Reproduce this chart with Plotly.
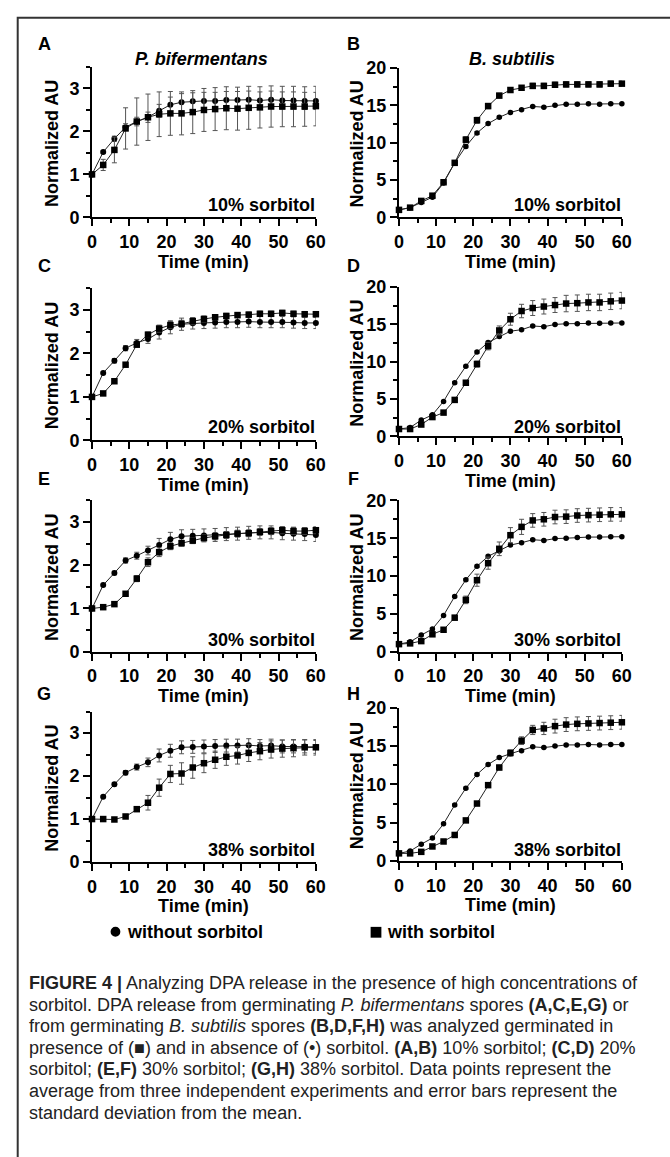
import plotly.graph_objects as go

W, H = 670, 1157

time_min = [0, 3, 6, 9, 12, 15, 18, 21, 24, 27, 30, 33, 36, 39, 42, 45, 48, 51, 54, 57, 60]

# Panel A: P. bifermentans, 10% sorbitol
a_without = [1.0, 1.52, 1.83, 2.10, 2.23, 2.33, 2.48, 2.62, 2.68, 2.70, 2.71, 2.71, 2.73, 2.73, 2.74, 2.72, 2.74, 2.72, 2.72, 2.71, 2.71]
a_without_sd = [0, 0.03, 0.06, 0.08, 0.1, 0.12, 0.15, 0.18, 0.2, 0.2, 0.2, 0.2, 0.2, 0.2, 0.2, 0.2, 0.2, 0.2, 0.2, 0.2, 0.2]
a_with = [1.0, 1.22, 1.57, 2.07, 2.23, 2.33, 2.40, 2.42, 2.42, 2.45, 2.50, 2.52, 2.54, 2.53, 2.55, 2.56, 2.58, 2.58, 2.58, 2.58, 2.59]
a_with_sd = [0, 0.13, 0.3, 0.48, 0.55, 0.54, 0.52, 0.51, 0.5, 0.5, 0.5, 0.5, 0.5, 0.5, 0.5, 0.48, 0.48, 0.47, 0.47, 0.46, 0.46]

# Panel B: B. subtilis, 10% sorbitol
b_without = [1.0, 1.3, 2.0, 2.7, 4.6, 7.3, 9.5, 11.3, 12.55, 13.4, 14.05, 14.4, 14.85, 14.75, 15.0, 15.15, 15.15, 15.2, 15.15, 15.2, 15.2]
b_without_sd = [0, 0.05, 0.1, 0.1, 0.15, 0.2, 0.2, 0.2, 0.15, 0.15, 0.15, 0.1, 0.1, 0.1, 0.1, 0.1, 0.1, 0.1, 0.1, 0.1, 0.1]
b_with = [1.0, 1.3, 2.2, 2.9, 4.7, 7.3, 10.4, 13.0, 14.9, 16.3, 17.05, 17.35, 17.6, 17.6, 17.75, 17.8, 17.8, 17.8, 17.8, 17.9, 17.9]
b_with_sd = [0, 0.05, 0.1, 0.15, 0.2, 0.3, 0.4, 0.4, 0.35, 0.3, 0.3, 0.3, 0.35, 0.35, 0.35, 0.35, 0.35, 0.35, 0.35, 0.35, 0.35]

# Panel C: P. bifermentans, 20% sorbitol
c_without = [1.0, 1.55, 1.83, 2.12, 2.24, 2.33, 2.48, 2.60, 2.67, 2.69, 2.70, 2.71, 2.72, 2.72, 2.73, 2.72, 2.72, 2.72, 2.71, 2.70, 2.70]
c_without_sd = [0, 0.02, 0.05, 0.06, 0.08, 0.1, 0.15, 0.15, 0.14, 0.13, 0.13, 0.13, 0.13, 0.13, 0.13, 0.13, 0.13, 0.13, 0.13, 0.13, 0.13]
c_with = [1.0, 1.08, 1.36, 1.74, 2.20, 2.43, 2.57, 2.65, 2.68, 2.74, 2.79, 2.83, 2.86, 2.88, 2.89, 2.91, 2.91, 2.93, 2.91, 2.90, 2.90]
c_with_sd = [0, 0.02, 0.03, 0.04, 0.05, 0.06, 0.08, 0.08, 0.08, 0.08, 0.07, 0.06, 0.06, 0.06, 0.06, 0.06, 0.06, 0.06, 0.06, 0.06, 0.06]

# Panel D: B. subtilis, 20% sorbitol
d_without = [1.0, 1.2, 2.2, 2.9, 4.7, 7.2, 9.4, 11.3, 12.6, 13.4, 14.1, 14.3, 14.8, 14.7, 15.0, 15.1, 15.1, 15.2, 15.15, 15.2, 15.2]
d_without_sd = [0, 0.05, 0.1, 0.1, 0.1, 0.15, 0.15, 0.15, 0.15, 0.1, 0.1, 0.1, 0.1, 0.1, 0.1, 0.1, 0.1, 0.1, 0.1, 0.1, 0.1]
d_with = [1.0, 1.0, 1.6, 2.6, 3.2, 4.9, 7.2, 9.7, 12.1, 14.2, 15.7, 16.8, 17.2, 17.4, 17.6, 17.8, 17.85, 17.95, 17.95, 18.1, 18.2]
d_with_sd = [0, 0.05, 0.1, 0.15, 0.15, 0.2, 0.3, 0.4, 0.5, 0.6, 0.8, 0.9, 1.0, 1.0, 1.0, 1.1, 1.1, 1.1, 1.1, 1.1, 1.1]

# Panel E: P. bifermentans, 30% sorbitol
e_without = [1.0, 1.54, 1.82, 2.11, 2.22, 2.34, 2.47, 2.60, 2.67, 2.68, 2.69, 2.70, 2.72, 2.73, 2.75, 2.76, 2.76, 2.74, 2.73, 2.72, 2.70]
e_without_sd = [0, 0.02, 0.04, 0.06, 0.08, 0.1, 0.15, 0.16, 0.15, 0.15, 0.15, 0.15, 0.15, 0.15, 0.15, 0.15, 0.15, 0.15, 0.15, 0.15, 0.15]
e_with = [1.0, 1.03, 1.10, 1.34, 1.69, 2.07, 2.30, 2.44, 2.51, 2.57, 2.63, 2.67, 2.70, 2.73, 2.74, 2.77, 2.79, 2.81, 2.79, 2.79, 2.81]
e_with_sd = [0, 0.02, 0.03, 0.05, 0.07, 0.1, 0.1, 0.08, 0.07, 0.07, 0.07, 0.08, 0.08, 0.08, 0.08, 0.08, 0.08, 0.08, 0.08, 0.08, 0.08]

# Panel F: B. subtilis, 30% sorbitol
f_without = [1.0, 1.3, 2.2, 3.0, 4.8, 7.3, 9.5, 11.3, 12.6, 13.3, 14.1, 14.4, 14.8, 14.7, 14.95, 15.0, 15.1, 15.15, 15.15, 15.2, 15.2]
f_without_sd = [0, 0.05, 0.1, 0.1, 0.1, 0.15, 0.15, 0.15, 0.15, 0.1, 0.1, 0.1, 0.1, 0.1, 0.1, 0.1, 0.1, 0.1, 0.1, 0.1, 0.1]
f_with = [1.0, 1.1, 1.4, 2.3, 2.9, 4.5, 6.85, 9.45, 11.7, 13.6, 15.4, 16.5, 17.35, 17.5, 17.8, 17.85, 18.0, 18.05, 18.1, 18.15, 18.15]
f_with_sd = [0, 0.05, 0.1, 0.15, 0.2, 0.3, 0.5, 0.8, 0.8, 0.9, 1.0, 1.0, 0.9, 0.9, 0.9, 0.9, 0.9, 0.9, 0.9, 0.9, 0.9]

# Panel G: P. bifermentans, 38% sorbitol
g_without = [1.0, 1.52, 1.81, 2.08, 2.21, 2.32, 2.48, 2.59, 2.67, 2.68, 2.69, 2.70, 2.71, 2.71, 2.72, 2.70, 2.71, 2.69, 2.69, 2.69, 2.68]
g_without_sd = [0, 0.02, 0.04, 0.05, 0.07, 0.1, 0.15, 0.15, 0.15, 0.15, 0.15, 0.15, 0.15, 0.15, 0.15, 0.15, 0.15, 0.15, 0.15, 0.15, 0.15]
g_with = [1.0, 1.0, 0.99, 1.06, 1.23, 1.38, 1.73, 2.05, 2.06, 2.20, 2.30, 2.38, 2.45, 2.48, 2.54, 2.58, 2.62, 2.64, 2.65, 2.67, 2.67]
g_with_sd = [0, 0.02, 0.02, 0.03, 0.05, 0.17, 0.2, 0.2, 0.25, 0.25, 0.22, 0.2, 0.2, 0.2, 0.2, 0.2, 0.2, 0.2, 0.2, 0.18, 0.18]

# Panel H: B. subtilis, 38% sorbitol
h_without = [1.0, 1.3, 2.2, 3.0, 4.85, 7.3, 9.5, 11.3, 12.6, 13.5, 14.0, 14.4, 14.9, 14.8, 15.0, 15.15, 15.15, 15.2, 15.15, 15.2, 15.2]
h_without_sd = [0, 0.05, 0.1, 0.1, 0.1, 0.15, 0.15, 0.15, 0.15, 0.1, 0.1, 0.1, 0.1, 0.1, 0.1, 0.1, 0.1, 0.1, 0.1, 0.1, 0.1]
h_with = [1.0, 1.0, 1.2, 1.9, 2.55, 3.4, 5.3, 7.5, 9.9, 12.2, 14.1, 15.7, 17.1, 17.3, 17.6, 17.8, 17.9, 17.95, 18.0, 18.05, 18.1]
h_with_sd = [0, 0.05, 0.05, 0.1, 0.1, 0.15, 0.2, 0.2, 0.25, 0.3, 0.4, 0.5, 0.6, 0.8, 0.9, 0.9, 0.9, 0.9, 0.9, 0.9, 0.9]

panel_letters = ["A", "B", "C", "D", "E", "F", "G", "H"]
condition_labels = ["10% sorbitol", "10% sorbitol", "20% sorbitol", "20% sorbitol",
                    "30% sorbitol", "30% sorbitol", "38% sorbitol", "38% sorbitol"]
species_titles = ["P. bifermentans", "B. subtilis"]
legend_labels = ["without sorbitol", "with sorbitol"]

series = [
    (a_without, a_without_sd, a_with, a_with_sd),
    (b_without, b_without_sd, b_with, b_with_sd),
    (c_without, c_without_sd, c_with, c_with_sd),
    (d_without, d_without_sd, d_with, d_with_sd),
    (e_without, e_without_sd, e_with, e_with_sd),
    (f_without, f_without_sd, f_with, f_with_sd),
    (g_without, g_without_sd, g_with, g_with_sd),
    (h_without, h_without_sd, h_with, h_with_sd),
]

# layout geometry in pixels (left, right, top, bottom of each plot area)
col_x = [(89, 318), (403, 631)]
row_y = [[(58, 211), (59, 211)],
         [(283, 438), (282, 434)],
         [(499, 653), (499, 653)],
         [(714, 867), (710, 866)]]

def px(x):
    return x / W

def py(y):
    return 1 - y / H

FONT = "Liberation Sans, Arial, Helvetica, sans-serif"
fig = go.Figure()
layout = dict(width=W, height=H, margin=dict(l=0, r=0, t=0, b=0),
              paper_bgcolor="white", plot_bgcolor="white", showlegend=False,
              font=dict(family=FONT, color="black"))
annotations = []
shapes = []

for i in range(8):
    r, c = divmod(i, 2)
    xa = "x" if i == 0 else f"x{i+1}"
    ya = "y" if i == 0 else f"y{i+1}"
    xl, xr = col_x[c]
    yt, yb = row_y[r][c]
    wo, wo_sd, wi, wi_sd = series[i]
    msize_c = 6 if c == 0 else 5.5
    fig.add_trace(go.Scatter(
        x=time_min, y=wo, mode="lines+markers", xaxis=xa, yaxis=ya,
        line=dict(color="#222", width=1),
        marker=dict(symbol="circle", size=msize_c, color="black"),
        error_y=dict(type="data", array=wo_sd, color="#555", thickness=1, width=2.5),
        cliponaxis=False))
    fig.add_trace(go.Scatter(
        x=time_min, y=wi, mode="lines+markers", xaxis=xa, yaxis=ya,
        line=dict(color="#222", width=1),
        marker=dict(symbol="square", size=6.5, color="black"),
        error_y=dict(type="data", array=wi_sd, color="#555", thickness=1, width=2.5),
        cliponaxis=False))

    key_x = "xaxis" if i == 0 else f"xaxis{i+1}"
    key_y = "yaxis" if i == 0 else f"yaxis{i+1}"
    layout[key_x] = dict(
        domain=[px(xl), px(xr)], anchor=ya, range=[0, 60],
        tickmode="linear", tick0=0, dtick=10,
        showline=True, linewidth=2, linecolor="black",
        ticks="outside", ticklen=7, tickwidth=2, tickcolor="black",
        minor=dict(tickmode="linear", tick0=0, dtick=5, ticks="outside", ticklen=4, tickwidth=2, tickcolor="black"),
        showgrid=False, zeroline=False,
        tickfont=dict(family=FONT, size=18, weight="bold", color="black"))
    if c == 0:
        yr, ydt, ymin = [0, 3.5], 1, 0.5
    else:
        yr, ydt, ymin = [0, 20], 5, 2.5
    layout[key_y] = dict(
        domain=[py(yb), py(yt)], anchor=xa, range=yr,
        tickmode="linear", tick0=0, dtick=ydt,
        showline=True, linewidth=2, linecolor="black",
        ticks="outside", ticklen=7, tickwidth=2, tickcolor="black",
        minor=dict(tickmode="linear", tick0=0, dtick=ymin, ticks="outside", ticklen=4, tickwidth=2, tickcolor="black"),
        showgrid=False, zeroline=False,
        tickfont=dict(family=FONT, size=18, weight="bold", color="black"))

    # panel letter
    letter_x = 40 if c == 0 else 356
    letter_y = [35, 261, 477, 696][r]
    annotations.append(dict(text=f"<b>{panel_letters[i]}</b>", x=px(letter_x), y=py(letter_y),
                            xref="paper", yref="paper", xanchor="center", yanchor="middle",
                            showarrow=False, font=dict(family=FONT, size=18)))
    # condition label
    cond_y = [198, 424, 641, 855][r]
    annotations.append(dict(text=f"<b>{condition_labels[i]}</b>", x=px(xr + 1), y=py(cond_y),
                            xref="paper", yref="paper", xanchor="right", yanchor="middle",
                            showarrow=False, font=dict(family=FONT, size=18)))
    # y title
    ytx = 48 if c == 0 else 360
    annotations.append(dict(text="<b>Normalized AU</b>", x=px(ytx), y=py((yt + yb) / 2 + 1),
                            xref="paper", yref="paper", xanchor="center", yanchor="middle",
                            textangle=-90, showarrow=False, font=dict(family=FONT, size=18)))
    # x title
    annotations.append(dict(text="<b>Time (min)</b>", x=px((xl + xr) / 2), y=py(yb + 45),
                            xref="paper", yref="paper", xanchor="center", yanchor="middle",
                            showarrow=False, font=dict(family=FONT, size=18)))

# species titles
annotations.append(dict(text=f"<b><i>{species_titles[0]}</i></b>", x=px(201), y=py(50),
                        xref="paper", yref="paper", xanchor="center", yanchor="middle",
                        showarrow=False, font=dict(family=FONT, size=18)))
annotations.append(dict(text=f"<b><i>{species_titles[1]}</i></b>", x=px(519), y=py(50),
                        xref="paper", yref="paper", xanchor="center", yanchor="middle",
                        showarrow=False, font=dict(family=FONT, size=18)))

# legend
shapes.append(dict(type="circle", xref="paper", yref="paper",
                   x0=px(108), x1=px(118), y0=py(943), y1=py(933),
                   fillcolor="black", line=dict(width=0)))
annotations.append(dict(text=f"<b>{legend_labels[0]}</b>", x=px(123), y=py(938),
                        xref="paper", yref="paper", xanchor="left", yanchor="middle",
                        showarrow=False, font=dict(family=FONT, size=18)))
shapes.append(dict(type="rect", xref="paper", yref="paper",
                   x0=px(374), x1=px(385), y0=py(944), y1=py(933),
                   fillcolor="black", line=dict(width=0)))
annotations.append(dict(text=f"<b>{legend_labels[1]}</b>", x=px(389), y=py(938),
                        xref="paper", yref="paper", xanchor="left", yanchor="middle",
                        showarrow=False, font=dict(family=FONT, size=18)))

# open frame (top and left edges) drawn as a rect extending past the page on right/bottom
shapes.append(dict(type="rect", xref="paper", yref="paper",
                   x0=px(13), x1=1.2, y0=-0.2, y1=py(8),
                   fillcolor="rgba(0,0,0,0)", line=dict(color="#333", width=2)))

# caption
CAP_FONT = "Liberation Sans, Arial, sans-serif"
caption_lines = [
    "<b>FIGURE 4 |</b> Analyzing DPA release in the presence of high concentrations of",
    "sorbitol. DPA release from germinating <i>P. bifermentans</i> spores <b>(A,C,E,G)</b> or",
    "from germinating <i>B. subtilis</i> spores <b>(B,D,F,H)</b> was analyzed germinated in",
    "presence of (\u25A0) and in absence of (\u2022) sorbitol. <b>(A,B)</b> 10% sorbitol; <b>(C,D)</b> 20%",
    "sorbitol; <b>(E,F)</b> 30% sorbitol; <b>(G,H)</b> 38% sorbitol. Data points represent the",
    "average from three independent experiments and error bars represent the",
    "standard deviation from the mean.",
]
cap_y = [990, 1012, 1034, 1056, 1078, 1100, 1122]
for line, yy in zip(caption_lines, cap_y):
    annotations.append(dict(text=line, x=px(22), y=py(yy), xref="paper", yref="paper",
                            xanchor="left", yanchor="middle", showarrow=False,
                            font=dict(family=CAP_FONT, size=18, color="#222")))

layout["annotations"] = annotations
layout["shapes"] = shapes
fig.update_layout(**layout)
fig.write_html("out.html")
